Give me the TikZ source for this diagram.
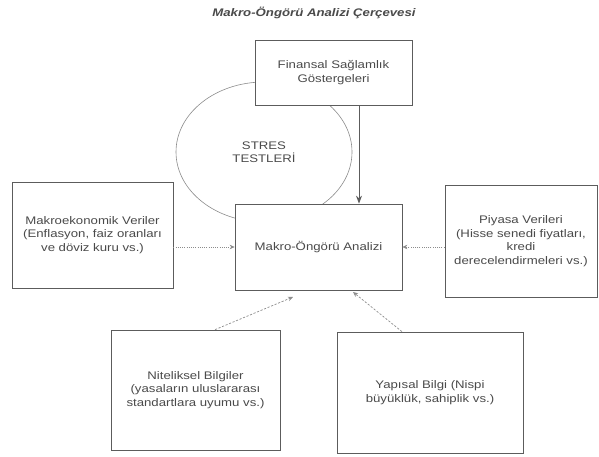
\documentclass[tikz,border=0pt]{standalone}
\usepackage{fontspec}
\setmainfont{Liberation Sans}[FakeStretch=1.2]
\usetikzlibrary{arrows.meta,shapes.geometric}
\definecolor{metin}{HTML}{4A4A4A}
\definecolor{cizgi}{HTML}{5C5C5C}
\definecolor{okrengi}{HTML}{8C8C8C}
\newcommand{\kutuyazi}{\fontsize{11}{13.5}\selectfont}

\begin{document}
\begin{tikzpicture}[x=1pt, y=-1pt,
    kutu/.style={draw=cizgi, line width=0.7pt, fill=white, align=center,
        text=metin, font=\kutuyazi, inner sep=2pt},
    noktali/.style={okrengi, line width=0.7pt, dash pattern=on 1pt off 1.2pt,
        -{Stealth[length=5pt, width=4.5pt]}},
    kesikli/.style={okrengi, line width=0.7pt, dash pattern=on 2.2pt off 1.6pt,
        -{Stealth[length=5pt, width=4.5pt]}}]
    \useasboundingbox (0,0) rectangle (599,457);
    \node[font=\bfseries\itshape\kutuyazi, text=metin] (baslik) at (314,13) {Makro-Öngörü Analizi Çerçevesi};
    % stres testleri
    \node[ellipse, draw=okrengi, line width=0.6pt, minimum width=176pt, minimum height=140pt,
        inner sep=0pt, align=center, text=metin, font=\kutuyazi] (stres) at (264,152) {STRES\\TESTLERİ};
    % kutular
    \node[kutu, minimum width=157pt, minimum height=65pt] (fin) at (333.5,72.5) {Finansal Sağlamlık\\Göstergeleri};
    \node[kutu, minimum width=167pt, minimum height=86pt] (ana) at (318.5,247) {Makro-Öngörü Analizi};
    \node[kutu, minimum width=161pt, minimum height=106pt] (makro) at (92.5,235) {Makroekonomik Veriler\\(Enflasyon, faiz oranları\\ve döviz kuru vs.)};
    \node[kutu, minimum width=152pt, minimum height=112pt] (piyasa) at (521,241) {Piyasa Verileri\\(Hisse senedi fiyatları,\\kredi\\derecelendirmeleri vs.)};
    \node[kutu, minimum width=169pt, minimum height=120pt] (nitel) at (195.5,390) {Niteliksel Bilgiler\\(yasaların uluslararası\\standartlara uyumu vs.)};
    \node[kutu, minimum width=186pt, minimum height=121pt] (yapisal) at (430,392.5) {Yapısal Bilgi (Nispi\\büyüklük, sahiplik vs.)};
    % oklar
    \coordinate (dikey) at (359,0);
    \draw[cizgi, line width=1pt, -{Stealth[length=8pt, width=6pt]}] (dikey |- fin.south) -- (dikey |- ana.north);
    \draw[noktali] (makro.east |- ana.west) -- (ana.west);
    \draw[noktali] (piyasa.west |- ana.east) -- (ana.east);
    \coordinate (nitelucu) at (293,297);
    \coordinate (yapisalucu) at (353,292);
    \draw[kesikli] ([xshift=19.5pt]nitel.north) -- (nitelucu);
    \draw[kesikli] ([xshift=-28pt]yapisal.north) -- (yapisalucu);
\end{tikzpicture}
\end{document}
